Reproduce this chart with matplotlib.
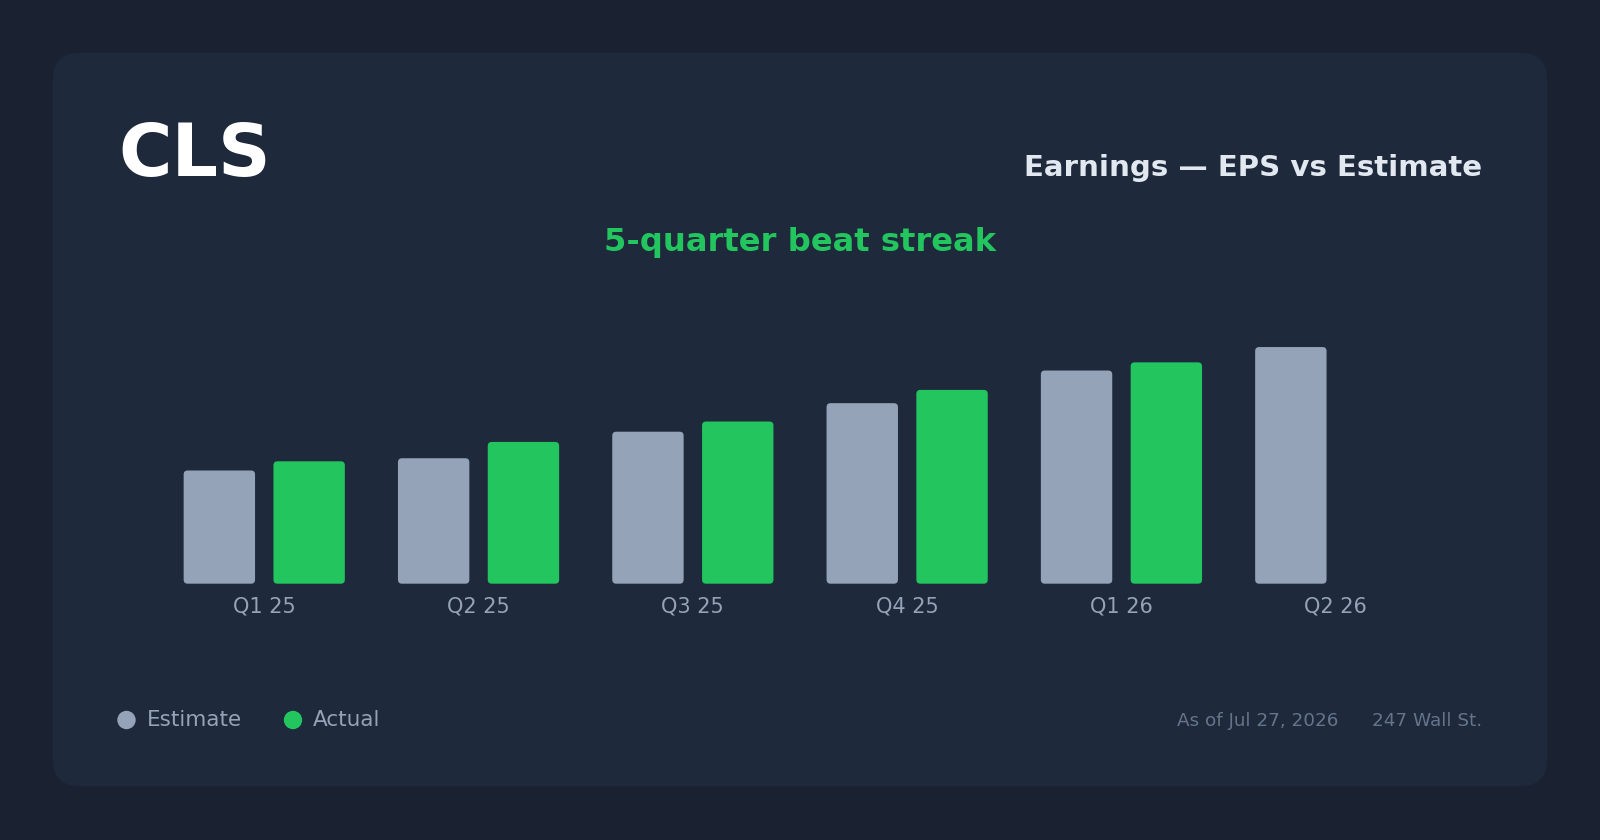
import numpy as np
import matplotlib
matplotlib.use("Agg")
import matplotlib.pyplot as plt
from matplotlib.patches import FancyBboxPatch, Circle
import matplotlib.transforms as mtransforms

# ---- data ----
quarters = ["Q1 25", "Q2 25", "Q3 25", "Q4 25", "Q1 26", "Q2 26"]
estimate = [1.11, 1.23, 1.49, 1.77, 2.09, 2.32]
actual = [1.20, 1.39, 1.59, 1.90, 2.17, np.nan]
ticker = "CLS"
title = "Earnings \u2014 EPS vs Estimate"
subtitle = "5-quarter beat streak"
legend_labels = ["Estimate", "Actual"]
footer_date = "As of Jul 27, 2026"
footer_src = "247 Wall St."

# ---- style ----
OUTER = "#1a2231"
CARD = "#1e293b"
EST_C = "#94a3b8"
ACT_C = "#22c55e"
MUTED = "#94a3b8"
FOOT = "#64748b"

W, H = 1600, 840
fig = plt.figure(figsize=(16, 8.4), dpi=100)
fig.patch.set_facecolor(OUTER)

# background axes in pixel coordinates (y down)
bg = fig.add_axes([0, 0, 1, 1])
bg.set_xlim(0, W)
bg.set_ylim(H, 0)
bg.axis("off")
bg.add_patch(FancyBboxPatch((53, 53), 1494, 733,
                            boxstyle="round,pad=0,rounding_size=26",
                            facecolor=CARD, edgecolor="none"))

# texts
bg.text(118, 176, ticker, color="white", fontsize=52.5, fontweight="bold",
        va="baseline", ha="left")
bg.text(1482, 175.5, title, color="#e2e8f0", fontsize=21.1, fontweight="bold",
        va="baseline", ha="right")
bg.text(800, 250.5, subtitle, color=ACT_C, fontsize=23.2, fontweight="bold",
        va="baseline", ha="center")

# legend
bg.add_patch(Circle((126.5, 720), 9.2, facecolor=EST_C, edgecolor="none"))
bg.text(147, 726.5, legend_labels[0], color=MUTED, fontsize=15.5, va="baseline", ha="left")
bg.add_patch(Circle((293, 720), 9.2, facecolor=ACT_C, edgecolor="none"))
bg.text(313, 726.5, legend_labels[1], color=MUTED, fontsize=15.5, va="baseline", ha="left")

# footer
bg.text(1338, 726, footer_date, color=FOOT, fontsize=13.2, va="baseline", ha="right")
bg.text(1482, 726, footer_src, color=FOOT, fontsize=13.2, va="baseline", ha="right")

# ---- bar axes ----
px_per_x = 214.3
px_per_y = 102.0
ymax = 2.6
L = 157.1
n = len(quarters)
ax_w = n * px_per_x
base_y = 583.7
ax_h = ymax * px_per_y
ax = fig.add_axes([L / W, (H - base_y) / H, ax_w / W, ax_h / H])
ax.set_xlim(-0.5, n - 0.5)
ax.set_ylim(0, ymax)
ax.axis("off")
ax.patch.set_alpha(0)

bw = 71.4 / px_per_x
off = (71.4 + 18.4) / 2 / px_per_x
r = 4.0 / px_per_x
asp = px_per_x / px_per_y

def rbar(xc, v, color):
    if np.isnan(v):
        return
    ax.add_patch(FancyBboxPatch((xc - bw / 2, 0), bw, v,
                                boxstyle=f"round,pad=0,rounding_size={r}",
                                mutation_aspect=asp,
                                facecolor=color, edgecolor="none"))

xs = np.arange(n)
for i in xs:
    rbar(i - off, estimate[i], EST_C)
    rbar(i + off, actual[i], ACT_C)

trans = mtransforms.blended_transform_factory(ax.transData, bg.transData)
for i, q in enumerate(quarters):
    ax.text(i, 612.7, q, transform=trans, color=MUTED, fontsize=15,
            ha="center", va="baseline")

fig.savefig("out.png", dpi=100, facecolor=OUTER)
